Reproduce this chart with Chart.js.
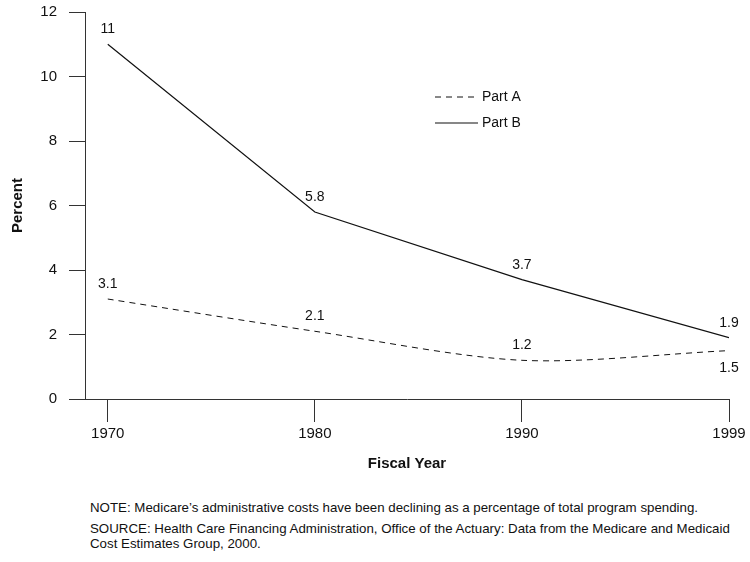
<!DOCTYPE html>
<html>
<head>
<meta charset="utf-8">
<script src="https://cdn.jsdelivr.net/npm/chart.js@4.4.1/dist/chart.umd.min.js"></script>
<style>
  body { margin: 0; background: #fff; }
  #wrap { position: relative; width: 750px; height: 562px; }
  #chart { position: absolute; left: 0; top: 0; }
  .note {
    position: absolute; left: 90px; width: 655px;
    font-family: "Liberation Sans", Arial, Helvetica, sans-serif;
    font-size: 13.3px; line-height: 14.5px; color: #111;
  }
</style>
</head>
<body>
<div id="wrap">
  <canvas id="chart" width="750" height="490"></canvas>
  <div class="note" style="top:501px">NOTE: Medicare’s administrative costs have been declining as a percentage of total program spending.</div>
  <div class="note" style="top:522px">SOURCE: Health Care Financing Administration, Office of the Actuary: Data from the Medicare and Medicaid Cost Estimates Group, 2000.</div>
</div>
<script>
// fiscal years on the x axis
const years = ['1970', '1980', '1990', '1999'];
// administrative costs as percent of program spending
const partA = [3.1, 2.1, 1.2, 1.5];
const partB = [11, 5.8, 3.7, 1.9];
const yTicks = [0, 2, 4, 6, 8, 10, 12];

const FONT = '"Liberation Sans", Arial, Helvetica, sans-serif';
Chart.defaults.font.family = FONT;
Chart.defaults.color = '#111';

const toPoints = arr => arr.map((v, i) => ({ x: i, y: v }));

// value labels above (or below) each point, plus the little legend
const annotate = {
    id: 'annotate',
    afterDatasetsDraw(chart) {
        const ctx = chart.ctx;
        ctx.save();
        ctx.font = '14px ' + FONT;
        ctx.fillStyle = '#111';
        ctx.textAlign = 'center';
        ctx.textBaseline = 'middle';
        chart.data.datasets.forEach((ds, di) => {
            const meta = chart.getDatasetMeta(di);
            meta.data.forEach((pt, i) => {
                const below = ds.labelBelow && ds.labelBelow[i];
                const y = below ? pt.y + 18 : pt.y - 15;
                ctx.fillText(String(ds.data[i].y), pt.x, y);
            });
        });

        // legend
        ctx.textAlign = 'left';
        chart.data.datasets.forEach((ds, di) => {
            const y = 97 + di * 26;
            ctx.beginPath();
            ctx.setLineDash(ds.borderDash || []);
            ctx.strokeStyle = ds.borderColor;
            ctx.lineWidth = ds.borderWidth;
            ctx.moveTo(435, y);
            ctx.lineTo(478, y);
            ctx.stroke();
            ctx.setLineDash([]);
            ctx.fillText(ds.label, 482, y);
        });
        ctx.restore();
    }
};

new Chart(document.getElementById('chart'), {
    type: 'line',
    data: {
        datasets: [{
            label: 'Part A',
            data: toPoints(partA),
            borderColor: '#111',
            borderWidth: 1,
            borderDash: [6, 5],
            tension: 0.3,
            pointRadius: 0,
            labelBelow: [false, false, false, true]
        }, {
            label: 'Part B',
            data: toPoints(partB),
            borderColor: '#111',
            borderWidth: 1.2,
            tension: 0,
            pointRadius: 0
        }]
    },
    options: {
        responsive: false,
        animation: false,
        layout: { padding: { top: 12, right: 21, left: 0, bottom: 0 } },
        plugins: { legend: { display: false }, tooltip: { enabled: false } },
        scales: {
            x: {
                type: 'linear',
                min: -0.11,
                max: years.length - 1,
                afterBuildTicks: s => { s.ticks = years.map((_, i) => ({ value: i })); },
                afterFit: s => { s.height = 91; },
                ticks: {
                    callback: v => years[v],
                    font: { size: 15 },
                    padding: 3,
                    maxRotation: 0
                },
                grid: { drawOnChartArea: false, tickLength: 23, color: '#333' },
                border: { color: '#333', width: 1 },
                title: {
                    display: true,
                    text: 'Fiscal Year',
                    font: { size: 15, weight: 'bold' },
                    padding: 17
                }
            },
            y: {
                min: 0,
                max: 12,
                afterBuildTicks: s => { s.ticks = yTicks.map(v => ({ value: v })); },
                afterFit: s => { s.width = 85; s.paddingTop = 8; s.paddingBottom = 0; },
                ticks: { font: { size: 15 }, padding: 12 },
                grid: { drawOnChartArea: false, tickLength: 16, color: '#333' },
                border: { color: '#333', width: 1 },
                title: {
                    display: true,
                    text: 'Percent',
                    font: { size: 15, weight: 'bold' },
                    padding: 9
                }
            }
        }
    },
    plugins: [annotate]
});
</script>
</body>
</html>
